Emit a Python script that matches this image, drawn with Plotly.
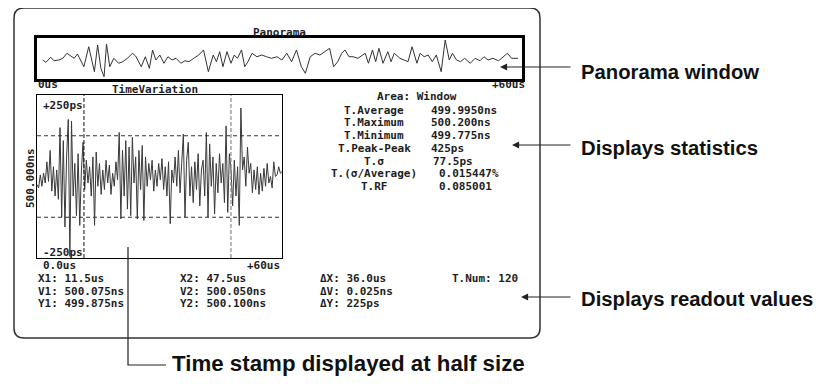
import plotly.graph_objects as go

# ---------------- data ----------------
# Panorama (whole record, 0..60 us), jitter in ps around 500.000 ns
pano_t = [0.7, 1.1, 1.7, 2.1, 2.7, 3.2, 3.7, 4.2, 4.6, 5.0,
          5.4, 5.8, 6.4, 7.1, 7.5, 7.9, 8.3, 8.6, 9.0, 9.5,
          10.1, 10.6, 11.2, 11.8, 12.2, 12.9, 13.4, 13.9, 14.3, 14.7,
          15.2, 15.7, 16.2, 16.7, 17.2, 17.8, 18.3, 18.8, 19.4, 20.0,
          20.6, 21.2, 21.8, 22.2, 22.6, 23.0, 23.5, 24.0, 24.4, 24.8,
          25.3, 25.7, 26.1, 26.6, 27.2, 27.8, 28.4, 29.0, 29.7, 30.3,
          30.9, 31.5, 32.1, 32.7, 33.2, 33.8, 34.4, 35.0, 35.6, 36.2,
          36.7, 37.2, 37.7, 38.1, 38.6, 39.1, 39.7,
          40.6, 41.0, 41.5, 41.9, 42.3, 42.8, 43.4, 43.8, 44.2, 44.9,
          45.5, 45.9, 46.4, 47.0, 47.4, 47.9, 48.4, 48.9, 49.4, 50.0,
          50.5, 51.0, 51.4, 51.9, 52.4, 52.9, 53.6, 54.2, 54.8, 55.3,
          55.8, 56.4, 57.1, 57.7, 58.2, 58.7, 59.5]
pano_v = [-16, -41, 13, -24, -16, 2, 56, 27, 2, 48,
          -16, -88, 126, -141, 144, -105, -195, 155, -88, 2,
          -51, -34, 2, 56, 27, -88, 19, -105, 91, -16,
          37, -51, 19, -16, 2, -51, -24, -34, 2, 37,
          91, -141, 37, -34, 73, -88, 73, -51, 37, 2,
          91, -88, -34, 56, 19, 37, 19, 2, 19, -16,
          56, -34, 91, -88, -158, 19, 56, 37, 73, 109,
          -88, -34, 56, 91, 19, 19, 2,
          56, -51, 91, -34, 109, -51, 73, -34, 56, 2,
          -16, -34, 126, -51, 56, 19, 37, -34, 37, -141,
          198, -16, 56, -16, -34, 2, -51, 2, -24, 19,
          -16, 2, -24, 19, 56, 2, 2]

# Time variation (window 0..60 us), ps relative to 500.000 ns
tv_v = [-25, -35, 5, -30, 10, -20, 45, -15, 80, -45,
        30, -60, 20, -70, 150, -125, 110, -155, 60, 175,
        -245, 170, -60, 40, -120, 70, -150, 20, 105, -40,
        50, -20, 30, -60, 60, -150, 75, -30, 40, -55,
        20, -40, 50, -20, 35, -55, 10, -30, 45, -10,
        135, -130, 80, -60, 110, -100, 90, -120, 120, -20,
        60, -130, 80, -40, 95, -135, 60, -30, 40, -10,
        50, -45, 20, -30, 40, -10, 55, -40, 30, -60,
        45, -145, 20, -20, 60, -30, 80, -50, 40, 130,
        -125, 50, 105, -60, 30, -80, 45, -40, 70, -90,
        20, 50, -60, 135, -125, 100, -30, 60, -115, 40,
        -50, 70, -20, 40, -80, 155, -110, 70, 20, -90,
        50, -60, 30, -150, 210, 20, 60, -30, 90, 10,
        40, -50, 20, -40, 30, -55, 10, -45, 25, -30,
        40, -20, 0, -35, 45, 0, 5, 30, 10, 15]
tv_span_us = 60.0
tv_t = [i * tv_span_us / (len(tv_v) - 1) for i in range(len(tv_v))]

cursor_x1_us = 11.5
cursor_x2_us = 47.5
grid_ps = [-125, 125]

stat_labels = ["T.Average", "T.Maximum", "T.Minimum", "T.Peak-Peak",
               "T.σ", "T.(σ/Average)", "T.RF"]
stat_values = ["499.9950ns", "500.200ns", "499.775ns", "425ps",
               "77.5ps", "0.015447%", "0.085001"]

readout_cols = [
    ["X1: 11.5us", "V1: 500.075ns", "Y1: 499.875ns"],
    ["X2: 47.5us", "V2: 500.050ns", "Y2: 500.100ns"],
    ["ΔX: 36.0us", "ΔV: 0.025ns", "ΔY: 225ps"],
    ["T.Num: 120"],
]

callouts = ["Panorama window", "Displays statistics", "Displays readout values"]
footnote = "Time stamp displayed at half size"

# ---------------- layout helpers ----------------
# the page body has an 8px default margin; the figure is sized so that its
# right/bottom edges meet the 826x385 window, and page pixels are mapped in.
PAGE_W, PAGE_H, OFF = 826, 385, 8
W, H = PAGE_W - OFF, PAGE_H - OFF


def fx(x):
    return (x - OFF) / W


def fy(y):
    return 1 - (y - OFF) / H


MONO = "DejaVu Sans Mono"
TXT = "#1e1e1e"

fig = go.Figure()
fig.add_trace(go.Scatter(x=tv_t, y=tv_v, mode="lines",
                         line=dict(color="#3a3a3a", width=1),
                         xaxis="x", yaxis="y", hoverinfo="skip", showlegend=False))
fig.add_trace(go.Scatter(x=pano_t, y=pano_v, mode="lines",
                         line=dict(color="#333333", width=1),
                         xaxis="x2", yaxis="y2", hoverinfo="skip", showlegend=False))

ax_common = dict(showgrid=False, zeroline=False, showticklabels=False, ticks="",
                 showline=True, mirror=True, linecolor="black", fixedrange=True)

fig.update_layout(
    width=W, height=H, margin=dict(l=0, r=0, t=0, b=0),
    paper_bgcolor="white", plot_bgcolor="white", showlegend=False,
    xaxis=dict(domain=[fx(37), fx(282)], range=[0, tv_span_us], linewidth=1,
               anchor="y", **ax_common),
    yaxis=dict(domain=[fy(258), fy(95)], range=[-250, 250], linewidth=1,
               anchor="x", **ax_common),
    xaxis2=dict(domain=[fx(37), fx(522)], range=[0, 60], linewidth=2.5,
                anchor="y2", **ax_common),
    yaxis2=dict(domain=[fy(79), fy(38)], range=[-219, 219], linewidth=2.5,
                anchor="x2", **ax_common),
)

shapes = []
# outer rounded frame
x0, y0, x1, y1, r = 14, 8, 540, 338, 10
rx, ry = r / W, r / H
path = (f"M {fx(x0)+rx},{fy(y0)} L {fx(x1)-rx},{fy(y0)} "
        f"Q {fx(x1)},{fy(y0)} {fx(x1)},{fy(y0)-ry} "
        f"L {fx(x1)},{fy(y1)+ry} Q {fx(x1)},{fy(y1)} {fx(x1)-rx},{fy(y1)} "
        f"L {fx(x0)+rx},{fy(y1)} Q {fx(x0)},{fy(y1)} {fx(x0)},{fy(y1)+ry} "
        f"L {fx(x0)},{fy(y0)-ry} Q {fx(x0)},{fy(y0)} {fx(x0)+rx},{fy(y0)} Z")
shapes.append(dict(type="path", xref="paper", yref="paper", path=path,
                   line=dict(color="#333", width=1.5)))
# grid dashed lines
for g in grid_ps:
    shapes.append(dict(type="line", xref="x", yref="y", x0=0, x1=tv_span_us, y0=g, y1=g,
                       line=dict(color="#333", width=1, dash="4px,3px")))
shapes.append(dict(type="line", xref="x", yref="y", x0=cursor_x1_us, x1=cursor_x1_us,
                   y0=-250, y1=250, line=dict(color="#111", width=1, dash="4px,2px")))
shapes.append(dict(type="line", xref="x", yref="y", x0=cursor_x2_us, x1=cursor_x2_us,
                   y0=-250, y1=250, line=dict(color="#888", width=1.2, dash="4px,2px")))
# time stamp bracket
shapes.append(dict(type="path", xref="paper", yref="paper",
                   path=f"M {fx(128)},{fy(247)} L {fx(128)},{fy(365)} L {fx(166)},{fy(365)}",
                   line=dict(color="#222", width=1.2)))

ann = []


def mono(text, x, y, xanchor="left", size=11, angle=0):
    ann.append(dict(text=text, x=fx(x), y=fy(y), xref="paper", yref="paper",
                    xanchor=xanchor, yanchor="middle", showarrow=False,
                    textangle=angle, font=dict(family=MONO, size=size, color=TXT, weight="bold")))


mono("Panorama", 279, 33, "center")
mono("0us", 36, 84)
mono("+60us", 527, 84, "right")
mono("TimeVariation", 155, 90, "center")
mono("+250ps", 41, 105)
mono("-250ps", 41, 252)
mono("500.000ns", 31, 178, "center", angle=-90)
mono("0.0us", 41, 265)
mono("+60us", 282, 265, "right")

mono("Area: Window", 417, 97, "center")
row_y = [110, 122.5, 135, 148, 161, 173.5, 186]
val_x = [429, 429, 429, 429, 431, 437, 437]
for lab, val, yy, vx in zip(stat_labels, stat_values, row_y, val_x):
    mono(lab, 374, yy, "center")
    mono(val, vx, yy)

col_x = [36, 178, 318, 450]
rd_y = [278, 291, 303]
for cx, col in zip(col_x, readout_cols):
    for yy, t in zip(rd_y, col):
        mono(t, cx, yy)

BOLD = dict(family="Liberation Sans", size=20.3, color="#111")
for text, yy in zip(callouts, [72, 148, 299]):
    ann.append(dict(text=f"<b>{text}</b>", x=fx(579), y=fy(yy), xref="paper", yref="paper",
                    xanchor="left", yanchor="middle", showarrow=False, font=BOLD))
ann.append(dict(text=f"<b>{footnote}</b>", x=fx(170), y=fy(363), xref="paper", yref="paper",
                xanchor="left", yanchor="middle", showarrow=False,
                font=dict(family="Liberation Sans", size=22.3, color="#111")))

# arrows
for tip_x, yy in [(500, 67), (512, 145), (521, 297)]:
    ann.append(dict(text="", x=fx(tip_x), y=fy(yy), xref="paper", yref="paper",
                    ax=572 - tip_x, ay=0, axref="pixel", ayref="pixel",
                    showarrow=True, arrowhead=2, arrowsize=1.3, arrowwidth=1.1,
                    arrowcolor="#222"))

fig.update_layout(shapes=shapes, annotations=ann)
fig.write_html("out.html")
